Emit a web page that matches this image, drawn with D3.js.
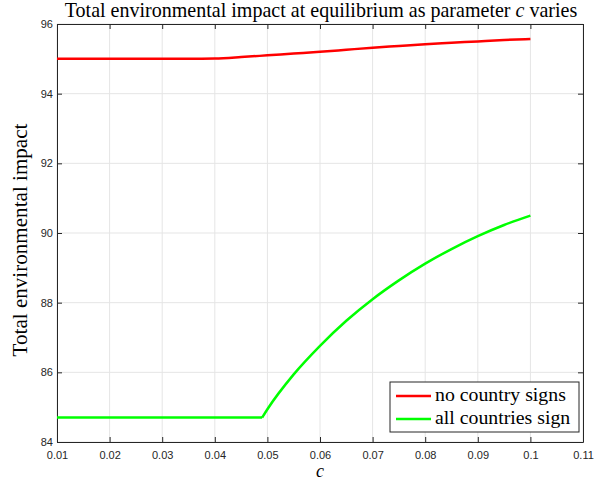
<!DOCTYPE html>
<html>
<head>
<meta charset="utf-8">
<script src="https://cdn.jsdelivr.net/npm/d3@7"></script>
<style>
  body { margin: 0; background: #fff; }
  .tick text { font-family: "Liberation Sans", Arial, sans-serif; font-size: 11px; fill: #262626; }
  .serif { font-family: "Liberation Serif", serif; fill: #000; }
</style>
</head>
<body>
<div id="chart"></div>
<script>
// values
const xTicks = [0.01, 0.02, 0.03, 0.04, 0.05, 0.06, 0.07, 0.08, 0.09, 0.1, 0.11];
const yTicks = [84, 86, 88, 90, 92, 94, 96];

const cNone = [0.01, 0.02, 0.03, 0.035, 0.04, 0.045, 0.05, 0.055, 0.06, 0.065, 0.07, 0.075, 0.08, 0.085, 0.09, 0.095, 0.1];
const noneSign = [95.0, 95.0, 95.0, 95.0, 95.01, 95.05, 95.1, 95.15, 95.2, 95.26, 95.32, 95.37, 95.42, 95.46, 95.5, 95.54, 95.57];

const cAll = [0.01, 0.049, 0.05, 0.055, 0.06, 0.065, 0.07, 0.075, 0.08, 0.085, 0.09, 0.095, 0.1];
const allSign = [84.7, 84.7, 84.94, 85.94, 86.76, 87.48, 88.1, 88.64, 89.12, 89.54, 89.91, 90.23, 90.5];
const allKink = 1; // index where the flat part ends

const width = 600, height = 481;
const margin = { top: 24, right: 17, bottom: 39, left: 57 };
const w = width - margin.left - margin.right;
const h = height - margin.top - margin.bottom;

const svg = d3.select('#chart').append('svg')
  .attr('width', width)
  .attr('height', height);

const g = svg.append('g')
  .attr('transform', 'translate(' + margin.left + ',' + margin.top + ')');

const x = d3.scaleLinear().domain([0.01, 0.11]).range([0, w]);
const y = d3.scaleLinear().domain([84, 96]).range([h, 0]);

// scale a text's font so it spans the width seen in the picture
function fitWidth(sel, target) {
  const len = sel.node().getComputedTextLength();
  const fs = parseFloat(sel.style('font-size'));
  sel.style('font-size', (fs * target / len) + 'px');
}

// grid
g.append('g').selectAll('line')
  .data(xTicks)
  .enter().append('line')
  .attr('x1', d => x(d)).attr('x2', d => x(d))
  .attr('y1', 0).attr('y2', h)
  .attr('stroke', '#e5e5e5').attr('stroke-width', 1);
g.append('g').selectAll('line')
  .data(yTicks)
  .enter().append('line')
  .attr('x1', 0).attr('x2', w)
  .attr('y1', d => y(d)).attr('y2', d => y(d))
  .attr('stroke', '#e5e5e5').attr('stroke-width', 1);

// axes, ticks pointing in like matlab
const fmt = d => String(+d.toFixed(2));
const xAxis = d3.axisBottom(x).tickValues(xTicks).tickFormat(fmt).tickSizeInner(-5).tickSizeOuter(0).tickPadding(9);
const yAxis = d3.axisLeft(y).tickValues(yTicks).tickSizeInner(-5).tickSizeOuter(0).tickPadding(4);

g.append('g').attr('transform', 'translate(0,' + h + ')').call(xAxis);
g.append('g').call(yAxis);
g.append('g').call(d3.axisTop(x).tickValues(xTicks).tickFormat('').tickSizeInner(-5).tickSizeOuter(0));
g.append('g').attr('transform', 'translate(' + w + ',0)')
  .call(d3.axisRight(y).tickValues(yTicks).tickFormat('').tickSizeInner(-5).tickSizeOuter(0));
g.selectAll('.domain').attr('stroke', '#262626');
g.selectAll('.tick line').attr('stroke', '#262626');

// lines
const line = d3.line().x(d => x(d[0])).y(d => y(d[1]));

const redPts = d3.zip(cNone, noneSign);
g.append('path')
  .attr('d', line.curve(d3.curveMonotoneX)(redPts))
  .attr('fill', 'none').attr('stroke', '#ff0000').attr('stroke-width', 2.5);

const greenPts = d3.zip(cAll, allSign);
g.append('path')
  .attr('d', line.curve(d3.curveLinear)(greenPts.slice(0, allKink + 1)))
  .attr('fill', 'none').attr('stroke', '#00ff00').attr('stroke-width', 2.5);
g.append('path')
  .attr('d', line.curve(d3.curveMonotoneX)(greenPts.slice(allKink)))
  .attr('fill', 'none').attr('stroke', '#00ff00').attr('stroke-width', 2.5);

// title
const title = svg.append('text')
  .attr('class', 'serif')
  .attr('x', 321).attr('y', 17)
  .attr('text-anchor', 'middle')
  .style('font-size', '16px');
title.append('tspan').text('Total environmental impact at equilibrium as parameter ');
title.append('tspan').style('font-style', 'italic').text('c');
title.append('tspan').text(' varies');
fitWidth(title, 513);

// axis labels
svg.append('text')
  .attr('class', 'serif')
  .attr('x', margin.left + w / 2).attr('y', 477)
  .attr('text-anchor', 'middle')
  .style('font-size', '18px').style('font-style', 'italic')
  .text('c');

const ylab = svg.append('text')
  .attr('class', 'serif')
  .attr('transform', 'translate(27,240) rotate(-90)')
  .attr('text-anchor', 'middle')
  .style('font-size', '17px')
  .text('Total environmental impact');
fitWidth(ylab, 233);

// legend
const legendNames = ['no country signs', 'all countries sign'];
const legendColors = ['#ff0000', '#00ff00'];
const lg = g.append('g').attr('transform', 'translate(' + (w - 193) + ',' + (h - 60) + ')');
lg.append('rect')
  .attr('width', 189).attr('height', 50)
  .attr('fill', '#fff').attr('stroke', '#262626').attr('stroke-width', 1);
const items = lg.selectAll('g')
  .data(legendNames)
  .enter().append('g')
  .attr('transform', (d, i) => 'translate(0,' + (14 + i * 23) + ')');
items.append('line')
  .attr('x1', 6).attr('x2', 41)
  .attr('stroke', (d, i) => legendColors[i]).attr('stroke-width', 2.5);
const ltext = items.append('text')
  .attr('class', 'serif')
  .attr('x', 45).attr('y', 5)
  .style('font-size', '16px')
  .text(d => d);
fitWidth(d3.select(ltext.nodes()[0]), 131);
ltext.style('font-size', d3.select(ltext.nodes()[0]).style('font-size'));
</script>
</body>
</html>
